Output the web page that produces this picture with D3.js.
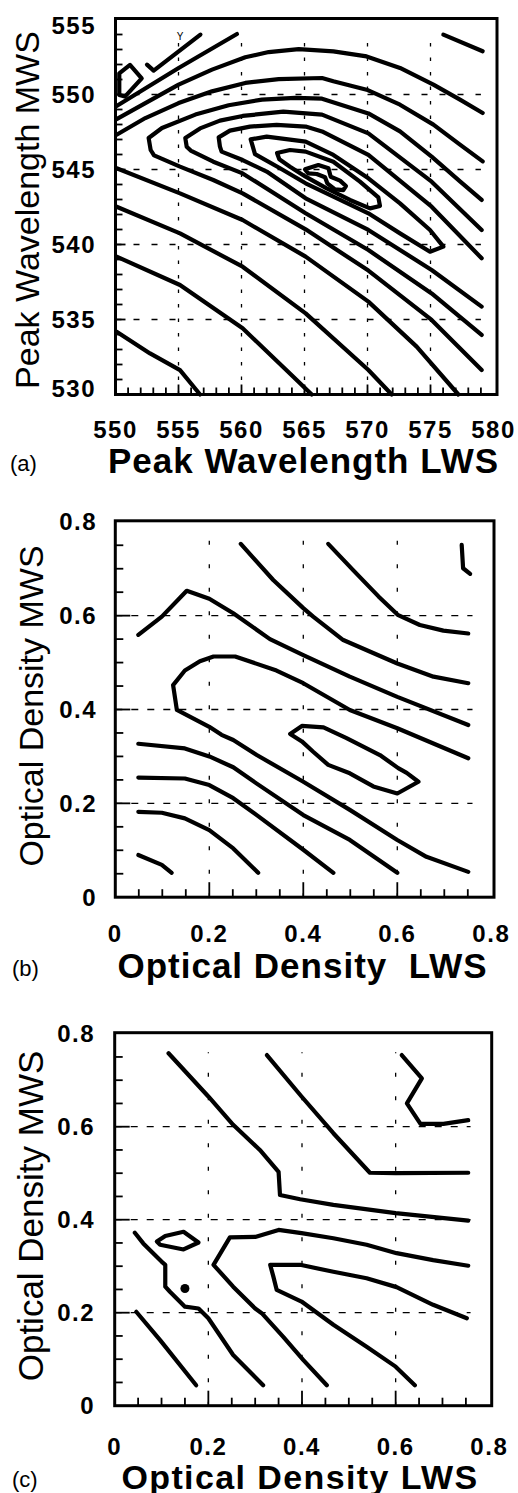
<!DOCTYPE html>
<html>
<head>
<meta charset="utf-8">
<script src="https://cdn.jsdelivr.net/npm/d3@7"></script>
<style>
  body { margin: 0; background: #fff; }
  svg { display: block; }
  text { font-family: "Liberation Sans", Arial, Helvetica, sans-serif; fill: #000; }
</style>
</head>
<body>
<svg id="chart" width="518" height="1493"></svg>
<script>
// ---- panel (a): peak wavelengths ----
const ticksA_x = [550, 555, 560, 565, 570, 575, 580];
const ticksA_y = [530, 535, 540, 545, 550, 555];

const contoursA = [
    [[576.02,553.99],[579.14,552.88]],
    [[552.50,551.99],[553.03,551.59],[556.74,553.99]],
    [[550.09,549.23],[555.01,551.77],[559.64,554.03]],
    [[550.09,548.36],[552.37,549.43],[555.01,550.66],[557.66,551.66],[560.30,552.48],[562.16,552.83],[564.54,553.03],[567.29,552.88],[569.93,552.54],[572.58,551.77],[575.23,550.66],[577.34,549.66],[579.14,548.77]],
    [[550.09,547.32],[552.37,548.43],[555.01,549.43],[557.66,550.21],[560.30,550.77],[562.95,551.03],[566.39,551.10],[567.29,550.88],[569.93,550.32],[572.58,549.32],[575.23,547.99],[577.34,546.66],[579.14,545.54]],
    [[579.06,542.97],[577.34,544.21],[575.09,545.86],[572.58,547.54],[570.07,548.74],[566.39,549.72],[564.27,549.77],[561.63,549.66],[558.98,549.28],[556.34,548.66],[553.69,547.77],[552.63,547.10],[552.79,546.30],[553.06,545.94],[555.12,545.19],[557.76,544.30],[560.09,543.41],[565.09,541.01],[570.07,538.26],[575.09,534.97],[579.06,531.63]],
    [[579.06,540.97],[575.09,544.19],[570.07,547.41],[566.39,548.66],[563.32,548.86],[560.09,548.57],[558.29,548.26],[556.71,547.74],[555.54,547.10],[555.65,546.52],[555.97,546.26],[557.76,545.52],[560.09,544.74],[565.09,542.08],[570.07,539.63],[575.09,536.74],[579.06,533.97]],
    [[579.06,539.08],[575.09,542.52],[570.07,545.97],[566.39,547.54],[565.09,547.86],[562.79,547.97],[560.67,547.86],[559.08,547.59],[558.19,547.14],[558.29,546.52],[558.42,546.19],[560.09,545.63],[562.00,544.86],[565.09,543.08],[570.07,540.97],[575.09,538.30],[579.06,535.86]],
    [[550.09,545.08],[555.12,543.41],[560.09,541.63],[565.09,539.19],[570.07,536.19],[573.90,533.19],[577.21,530.0]],
    [[550.09,542.52],[555.12,540.74],[560.09,538.52],[565.09,535.41],[570.07,531.63],[571.92,530.0]],
    [[550.09,539.19],[555.12,537.30],[560.09,534.41],[564.11,531.19],[565.57,530.0]],
    [[550.09,534.19],[552.74,532.74],[555.12,531.63],[556.71,530.0]]
];

const loopsA = [
    [[550.30,551.41],[551.15,551.97],[552.08,551.08],[550.75,549.86],[550.30,549.97]],
    [[560.73,547.01],[562.00,547.19],[565.09,546.86],[567.29,545.97],[570.07,544.41],[572.58,542.74],[574.96,540.97],[576.02,539.86],[574.96,539.52],[572.58,540.74],[570.07,542.08],[567.29,543.19],[565.09,544.08],[563.06,545.08],[561.07,546.03]],
    [[562.82,546.10],[563.85,546.30],[565.09,546.19],[567.29,545.52],[569.40,544.19],[570.86,543.14],[570.99,542.57],[570.20,542.41],[568.61,542.97],[566.76,543.74],[565.09,544.52],[563.85,545.19],[563.00,545.68]],
    [[565.04,545.01],[566.10,545.30],[566.90,545.08],[567.08,544.52],[567.82,544.26],[568.29,543.90],[568.08,543.63],[567.42,543.68],[566.81,544.08],[566.63,544.48],[565.97,544.70],[565.30,544.74]]
];

// ---- panels (b) and (c): optical densities ----
const ticksOD = [0, 0.2, 0.4, 0.6, 0.8];
const tickLabelsOD = ["0", "0.2", "0.4", "0.6", "0.8"];

const contoursB = [
    [[0.049,0.090],[0.099,0.069],[0.120,0.052]],
    [[0.049,0.182],[0.099,0.180],[0.148,0.168],[0.200,0.143],[0.251,0.104],[0.304,0.052]],
    [[0.049,0.255],[0.148,0.253],[0.200,0.239],[0.251,0.211],[0.301,0.175],[0.400,0.101],[0.464,0.052]],
    [[0.049,0.327],[0.148,0.317],[0.200,0.300],[0.251,0.277],[0.301,0.242],[0.400,0.175],[0.499,0.122],[0.600,0.052]],
    [[0.751,0.296],[0.600,0.360],[0.499,0.399],[0.400,0.456],[0.343,0.483],[0.255,0.513],[0.209,0.513],[0.180,0.503],[0.148,0.483],[0.123,0.452],[0.131,0.399],[0.200,0.363],[0.226,0.346],[0.251,0.335],[0.301,0.303],[0.400,0.246],[0.499,0.186],[0.600,0.122],[0.662,0.086],[0.751,0.054]],
    [[0.049,0.559],[0.099,0.598],[0.152,0.653],[0.200,0.636],[0.251,0.605],[0.329,0.550],[0.400,0.516],[0.499,0.470],[0.600,0.427],[0.751,0.367]],
    [[0.267,0.753],[0.336,0.676],[0.400,0.616],[0.421,0.598],[0.485,0.548],[0.600,0.498],[0.677,0.470],[0.751,0.456]],
    [[0.453,0.753],[0.506,0.697],[0.560,0.641],[0.602,0.601],[0.648,0.580],[0.698,0.568],[0.751,0.562]],
    [[0.737,0.751],[0.740,0.701],[0.755,0.689]]
];

const loopsB = [
    [[0.372,0.348],[0.397,0.365],[0.443,0.362],[0.492,0.339],[0.563,0.303],[0.602,0.275],[0.620,0.265],[0.645,0.246],[0.600,0.221],[0.549,0.236],[0.499,0.264],[0.453,0.282],[0.421,0.310],[0.397,0.332]]
];

const contoursC = [
    [[0.046,0.202],[0.097,0.141],[0.174,0.044]],
    [[0.043,0.372],[0.061,0.349],[0.100,0.310],[0.108,0.303],[0.108,0.256],[0.118,0.245],[0.150,0.213],[0.179,0.209],[0.200,0.188],[0.253,0.109],[0.317,0.044]],
    [[0.755,0.301],[0.680,0.313],[0.602,0.328],[0.538,0.346],[0.467,0.360],[0.399,0.371],[0.350,0.378],[0.300,0.363],[0.246,0.362],[0.211,0.303],[0.253,0.256],[0.300,0.209],[0.314,0.199],[0.360,0.148],[0.403,0.098],[0.453,0.044]],
    [[0.752,0.188],[0.680,0.217],[0.602,0.255],[0.538,0.274],[0.467,0.288],[0.396,0.303],[0.332,0.303],[0.339,0.277],[0.346,0.249],[0.399,0.224],[0.467,0.174],[0.538,0.127],[0.600,0.084],[0.641,0.044]],
    [[0.115,0.758],[0.200,0.665],[0.253,0.604],[0.310,0.550],[0.350,0.503],[0.353,0.453],[0.396,0.444],[0.467,0.432],[0.600,0.414],[0.755,0.398]],
    [[0.325,0.754],[0.399,0.665],[0.467,0.586],[0.545,0.501],[0.600,0.500],[0.755,0.501]],
    [[0.613,0.754],[0.656,0.704],[0.624,0.650],[0.653,0.606],[0.702,0.606],[0.755,0.614]]
];

const loopsC = [
    [[0.090,0.353],[0.108,0.365],[0.147,0.374],[0.179,0.351],[0.147,0.336],[0.097,0.346]]
];
const dotsC = [[0.150, 0.252]];

const svg = d3.select("#chart");

function drawPanel(p) {
    const x = d3.scaleLinear().domain(p.xDomain).range(p.xRange);
    const y = d3.scaleLinear().domain(p.yDomain).range(p.yRange);
    const g = svg.append("g");
    const x0 = x(p.xDomain[0]), y0 = y(p.yDomain[0]);

    // dashed grid
    g.selectAll(".hgrid").data(p.yGrid).join("line")
        .attr("x1", x0).attr("x2", x(p.gridEnd[0]))
        .attr("y1", d => y(d)).attr("y2", d => y(d))
        .attr("stroke", "#000").attr("stroke-width", 1.3)
        .attr("stroke-dasharray", p.hDash);
    g.selectAll(".vgrid").data(p.xGrid).join("line")
        .attr("x1", d => x(d)).attr("x2", d => x(d))
        .attr("y1", y0).attr("y2", y(p.gridEnd[1]))
        .attr("stroke", "#000").attr("stroke-width", 1.3)
        .attr("stroke-dasharray", p.vDash);

    // inward ticks on bottom and left
    g.selectAll(".xt").data(p.xMinor).join("line")
        .attr("x1", d => x(d)).attr("x2", d => x(d))
        .attr("y1", y0).attr("y2", d => y0 - (p.xGrid.includes(d) ? p.majorLen : p.minorLen))
        .attr("stroke", "#000").attr("stroke-width", 1.8);
    g.selectAll(".yt").data(p.yMinor).join("line")
        .attr("y1", d => y(d)).attr("y2", d => y(d))
        .attr("x1", x0).attr("x2", d => x0 + (p.yGrid.includes(d) ? p.majorLen : p.minorLen))
        .attr("stroke", "#000").attr("stroke-width", 1.8);

    // frame
    g.append("rect")
        .attr("x", x0).attr("y", y(p.yDomain[1]) - 1)
        .attr("width", x(p.xDomain[1]) + p.boxExtra - x0)
        .attr("height", y0 - y(p.yDomain[1]) + 1)
        .attr("fill", "none").attr("stroke", "#000").attr("stroke-width", 3);

    // contour lines
    const line = d3.line().x(d => x(d[0])).y(d => y(d[1]));
    const loop = d3.line().x(d => x(d[0])).y(d => y(d[1])).curve(d3.curveLinearClosed);
    g.selectAll(".c").data(p.lines).join("path")
        .attr("d", line)
        .attr("fill", "none").attr("stroke", "#000").attr("stroke-width", 4.2)
        .attr("stroke-linejoin", "round").attr("stroke-linecap", "round");
    g.selectAll(".l").data(p.loops).join("path")
        .attr("d", loop)
        .attr("fill", "none").attr("stroke", "#000").attr("stroke-width", 4.2)
        .attr("stroke-linejoin", "round");
    g.selectAll(".d").data(p.dots || []).join("circle")
        .attr("cx", d => x(d[0])).attr("cy", d => y(d[1])).attr("r", 4.5)
        .attr("fill", "#000");

    // tick labels
    g.selectAll(".xl").data(p.xTicks).join("text")
        .attr("x", d => x(d)).attr("y", p.xLabelY)
        .attr("text-anchor", "middle")
        .style("font-size", "24px").style("font-weight", "bold").style("letter-spacing", "1.5px")
        .text((d, i) => p.xLabels[i]);
    g.selectAll(".yl").data(p.yTicks).join("text")
        .attr("x", p.yLabelX)
        .attr("y", d => Math.max(p.yClamp[0], Math.min(p.yClamp[1], y(d))) + 8.5)
        .attr("text-anchor", "end")
        .style("font-size", "24px").style("font-weight", "bold").style("letter-spacing", "1.5px")
        .text((d, i) => p.yLabels[i]);

    // axis titles
    g.append("text")
        .attr("x", p.xTitle[0]).attr("y", p.xTitle[1])
        .attr("text-anchor", "middle")
        .style("font-size", p.xTitleSize + "px").style("font-weight", "bold")
        .style("letter-spacing", p.xTitleSpacing + "px").style("white-space", "pre")
        .text(p.xTitleText);
    g.append("text")
        .attr("transform", `translate(${p.yTitle[0]},${p.yTitle[1]}) rotate(-90)`)
        .attr("text-anchor", "middle")
        .style("font-size", p.yTitleSize + "px")
        .text(p.yTitleText);
    g.append("text")
        .attr("x", p.tag[0]).attr("y", p.tag[1])
        .style("font-size", "22px")
        .text(p.tagText);

    return { x, y, g };
}

const odMinor = d3.range(1, 16).map(i => +(i * 0.05).toFixed(2));

const pa = drawPanel({
    xDomain: [550, 580], yDomain: [530, 555],
    xRange: [115.5, 493.5], yRange: [394.5, 19.5], boxExtra: 3.5,
    xGrid: [555, 560, 565, 570, 575], yGrid: [535, 540, 545, 550], gridEnd: [579, 554],
    hDash: "6,12", vDash: "3.5,11",
    xMinor: d3.range(551, 580), yMinor: d3.range(531, 555), minorLen: 7, majorLen: 10,
    lines: contoursA, loops: loopsA,
    xTicks: ticksA_x, xLabels: ticksA_x.map(String), xLabelY: 438,
    yTicks: ticksA_y, yLabels: ticksA_y.map(String), yLabelX: 96, yClamp: [25, 388],
    xTitle: [303.5, 473], xTitleSize: 35, xTitleSpacing: 1, xTitleText: "Peak Wavelength LWS",
    yTitle: [38.5, 210], yTitleSize: 34, yTitleText: "Peak Wavelength MWS",
    tag: [10, 471], tagText: "(a)"
});
// small stray mark near the top-left contours
pa.g.append("text")
    .attr("x", pa.x(555.12)).attr("y", pa.y(553.66))
    .attr("text-anchor", "middle").style("font-size", "10px")
    .text("Y");

drawPanel({
    xDomain: [0, 0.8], yDomain: [0, 0.8],
    xRange: [115.3, 491.3], yRange: [897.2, 521.8], boxExtra: 2.7,
    xGrid: [0.2, 0.4, 0.6], yGrid: [0.2, 0.4, 0.6], gridEnd: [0.76, 0.76],
    hDash: "7,9", vDash: "4,19.5",
    xMinor: odMinor, yMinor: odMinor, minorLen: 8, majorLen: 15,
    lines: contoursB, loops: loopsB,
    xTicks: ticksOD, xLabels: tickLabelsOD, xLabelY: 941.5,
    yTicks: ticksOD, yLabels: tickLabelsOD, yLabelX: 97, yClamp: [0, 2000],
    xTitle: [302.5, 978], xTitleSize: 35, xTitleSpacing: 1, xTitleText: "Optical Density  LWS",
    yTitle: [43, 706], yTitleSize: 34, yTitleText: "Optical Density MWS",
    tag: [12, 976], tagText: "(b)"
});

drawPanel({
    xDomain: [0, 0.8], yDomain: [0, 0.8],
    xRange: [114.7, 489.3], yRange: [1405.7, 1033.7], boxExtra: 2.4,
    xGrid: [0.2, 0.4, 0.6], yGrid: [0.2, 0.4, 0.6], gridEnd: [0.76, 0.76],
    hDash: "7,9", vDash: "4,19.5",
    xMinor: odMinor, yMinor: odMinor, minorLen: 8, majorLen: 15,
    lines: contoursC, loops: loopsC, dots: dotsC,
    xTicks: ticksOD, xLabels: tickLabelsOD, xLabelY: 1455,
    yTicks: ticksOD, yLabels: tickLabelsOD, yLabelX: 95, yClamp: [0, 2000],
    xTitle: [300, 1489], xTitleSize: 34, xTitleSpacing: 1.4, xTitleText: "Optical Density LWS",
    yTitle: [43, 1216], yTitleSize: 35, yTitleText: "Optical Density MWS",
    tag: [12, 1487], tagText: "(c)"
});
</script>
</body>
</html>
